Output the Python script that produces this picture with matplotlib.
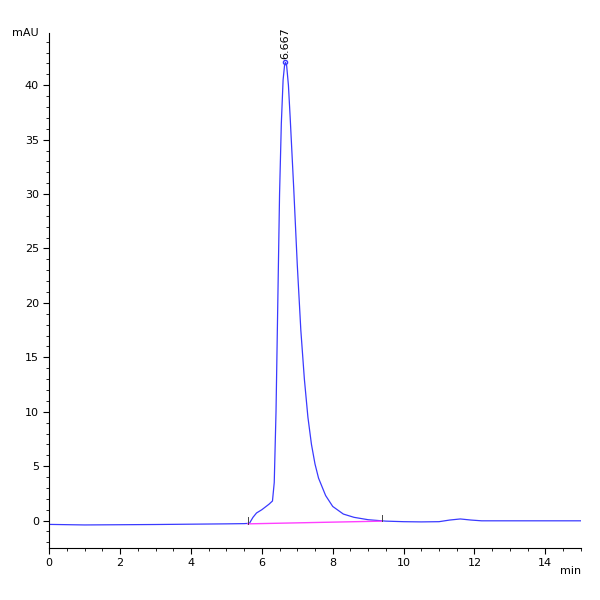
import numpy as np
import matplotlib
matplotlib.use('Agg')
import matplotlib.pyplot as plt
from matplotlib.ticker import MultipleLocator

# chromatogram points (min, mAU)
time_min = [0.0, 1.0, 2.0, 3.0, 4.0, 5.0, 5.5, 5.65, 5.75, 5.85, 6.0, 6.2, 6.3, 6.35, 6.4,
            6.45, 6.5, 6.55, 6.6, 6.64, 6.667, 6.7, 6.75, 6.8, 6.9, 7.0, 7.1, 7.2, 7.3, 7.4, 7.5,
            7.6, 7.8, 8.0, 8.3, 8.6, 9.0, 9.5, 10.0, 10.5, 11.0, 11.3, 11.6, 11.9, 12.2,
            13.0, 14.0, 15.0]
signal_mau = [-0.35, -0.4, -0.38, -0.36, -0.33, -0.3, -0.28, -0.25, 0.3, 0.7, 1.0, 1.5, 1.8, 3.5, 10.0,
              20.0, 30.0, 36.5, 40.5, 41.8, 42.1, 41.8, 40.0, 37.0, 30.5, 23.5, 17.5, 13.0, 9.5, 7.0, 5.2,
              3.9, 2.3, 1.3, 0.6, 0.3, 0.08, -0.05, -0.1, -0.12, -0.1, 0.05, 0.15, 0.05, -0.02,
              -0.02, -0.02, -0.02]
peak_time = 6.667
peak_height = 42.1
baseline_t = [5.6, 9.4]
baseline_y = [-0.3, -0.05]

fig, ax = plt.subplots(figsize=(6, 6), dpi=100)
fig.subplots_adjust(left=0.082, right=0.968, bottom=0.087, top=0.945)

ax.plot(time_min, signal_mau, color='#3a3aff', lw=0.9)
ax.plot(baseline_t, baseline_y, color='#ff40ff', lw=1.0)
ax.plot([peak_time], [peak_height], marker='o', ms=3, mfc='none', color='#3a3aff')
ax.text(peak_time, peak_height + 0.3, f'{peak_time:.3f}', rotation=90, ha='center', va='bottom', fontsize=8)
for t, y in zip(baseline_t, baseline_y):
    ax.plot([t, t], [y, y + 0.6], color='#444444', lw=0.7)

ax.set_xlim(0, 15)
ax.set_ylim(-2.5, 44.8)
ax.xaxis.set_major_locator(MultipleLocator(2))
ax.xaxis.set_minor_locator(MultipleLocator(0.5))
ax.yaxis.set_major_locator(MultipleLocator(5))
ax.yaxis.set_minor_locator(MultipleLocator(1))
ax.tick_params(labelsize=8, direction='out', length=4)
ax.tick_params(which='minor', length=2)
for s in ['top', 'right']:
    ax.spines[s].set_visible(False)
ax.text(-0.02, 1.0, 'mAU', transform=ax.transAxes, ha='right', va='center', fontsize=8)
ax.text(1.0, -0.045, 'min', transform=ax.transAxes, ha='right', va='center', fontsize=8)

fig.savefig('out.png', dpi=100)
